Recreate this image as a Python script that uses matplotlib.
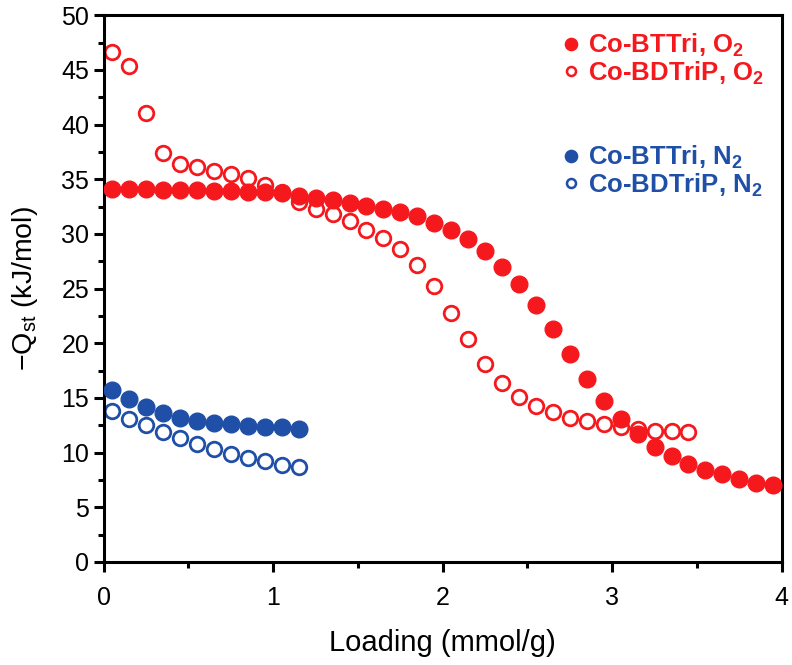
import matplotlib
matplotlib.use("Agg")
import numpy as np
import matplotlib.pyplot as plt
from matplotlib.lines import Line2D

plt.rcParams['font.family'] = ['Liberation Sans', 'DejaVu Sans']
plt.rcParams['mathtext.fontset'] = 'custom'
plt.rcParams['mathtext.rm'] = 'Liberation Sans'
plt.rcParams['mathtext.bf'] = 'Liberation Sans:bold'
plt.rcParams['mathtext.it'] = 'Liberation Sans:italic'

# Co-BTTri, O2 (filled red)
x_bttri_o2 = [0.05, 0.15, 0.25, 0.35, 0.45, 0.55, 0.65, 0.75, 0.85, 0.95,
              1.05, 1.15, 1.25, 1.35, 1.45, 1.55, 1.65, 1.75, 1.85, 1.95,
              2.05, 2.15, 2.25, 2.35, 2.45, 2.55, 2.65, 2.75, 2.85, 2.95,
              3.05, 3.15, 3.25, 3.35, 3.45, 3.55, 3.65, 3.75, 3.85, 3.95]
q_bttri_o2 = [34.1, 34.1, 34.1, 34.0, 34.0, 34.0, 33.9, 33.9, 33.8, 33.8,
              33.7, 33.5, 33.3, 33.1, 32.8, 32.6, 32.3, 32.0, 31.6, 31.0,
              30.4, 29.5, 28.4, 27.0, 25.4, 23.5, 21.3, 19.0, 16.7, 14.7,
              13.1, 11.7, 10.5, 9.7, 9.0, 8.4, 8.0, 7.6, 7.2, 7.0]

# Co-BDTriP, O2 (open red)
x_bdtrip_o2 = [0.05, 0.15, 0.25, 0.35, 0.45, 0.55, 0.65, 0.75, 0.85, 0.95,
               1.05, 1.15, 1.25, 1.35, 1.45, 1.55, 1.65, 1.75, 1.85, 1.95,
               2.05, 2.15, 2.25, 2.35, 2.45, 2.55, 2.65, 2.75, 2.85, 2.95,
               3.05, 3.15, 3.25, 3.35, 3.45]
q_bdtrip_o2 = [46.6, 45.4, 41.1, 37.4, 36.4, 36.1, 35.8, 35.5, 35.1, 34.5,
               33.8, 32.9, 32.3, 31.8, 31.2, 30.4, 29.6, 28.6, 27.2, 25.2,
               22.8, 20.4, 18.1, 16.4, 15.1, 14.3, 13.7, 13.2, 12.9, 12.6,
               12.3, 12.2, 12.0, 12.0, 11.9]

# Co-BTTri, N2 (filled blue)
x_bttri_n2 = [0.05, 0.15, 0.25, 0.35, 0.45, 0.55, 0.65, 0.75, 0.85, 0.95, 1.05, 1.15]
q_bttri_n2 = [15.7, 14.9, 14.2, 13.6, 13.2, 12.9, 12.7, 12.6, 12.4, 12.3, 12.3, 12.2]

# Co-BDTriP, N2 (open blue)
x_bdtrip_n2 = [0.05, 0.15, 0.25, 0.35, 0.45, 0.55, 0.65, 0.75, 0.85, 0.95, 1.05, 1.15]
q_bdtrip_n2 = [13.8, 13.1, 12.5, 11.9, 11.3, 10.8, 10.3, 9.9, 9.5, 9.2, 8.9, 8.7]

red = '#F5191E'
blue = '#1F4FA6'

fig = plt.figure(figsize=(7.92, 6.65), dpi=100)
ax = fig.add_axes([0.131, 0.155, 0.856, 0.822])

ms = 12
ax.plot(x_bttri_o2, q_bttri_o2, 'o', color=red, ms=ms, mec=red, zorder=3)
ax.plot(x_bdtrip_o2, q_bdtrip_o2, 'o', mfc='none', mec=red, ms=10.5, mew=2.0, zorder=2)
ax.plot(x_bttri_n2, q_bttri_n2, 'o', color=blue, ms=ms, mec=blue, zorder=3)
ax.plot(x_bdtrip_n2, q_bdtrip_n2, 'o', mfc='none', mec=blue, ms=10.5, mew=2.0, zorder=2)

ax.set_xlim(0, 4)
ax.set_ylim(0, 50)
ax.set_xticks([0, 1, 2, 3, 4])
ax.set_xticks(np.arange(0.5, 4, 1), minor=True)
ax.set_yticks(np.arange(0, 51, 5))
ax.set_yticks(np.arange(2.5, 50, 5), minor=True)
for s in ax.spines.values():
    s.set_linewidth(2.2)
ax.tick_params(which='major', direction='out', length=7, width=2.2, labelsize=18)
ax.tick_params(which='minor', direction='out', length=4.5, width=2.2)
ax.tick_params(axis='x', pad=10)

ax.set_xlabel('Loading (mmol/g)', fontsize=21, labelpad=14)
ax.set_ylabel(r'$-\mathrm{Q}_{\rm st}$ (kJ/mol)', fontsize=20.5, labelpad=15)

# legend, two groups
def make_legend(entries, anchor):
    handles = []
    labels = []
    for lab, col, filled in entries:
        h = Line2D([], [], ls='none', marker='o', ms=8 if filled else 6.5,
                   mfc=col if filled else 'none', mec=col, mew=1.8)
        handles.append(h)
        labels.append(lab)
    leg = ax.legend(handles, labels, loc='upper left', bbox_to_anchor=anchor,
                    frameon=False, handletextpad=0.15, handlelength=1.0,
                    labelspacing=0.02, borderaxespad=0, borderpad=0,
                    prop={'family': ['Liberation Sans', 'DejaVu Sans'],
                          'weight': 'bold', 'size': 18.5},
                    labelcolor=[e[1] for e in entries])
    return leg

leg1 = make_legend([(r'Co-BTTri, O$_\mathbf{2}$', red, True),
                    (r'Co-BDTriP, O$_\mathbf{2}$', red, False)], (0.67, 0.97))
ax.add_artist(leg1)
make_legend([(r'Co-BTTri, N$_\mathbf{2}$', blue, True),
             (r'Co-BDTriP, N$_\mathbf{2}$', blue, False)], (0.67, 0.765))

fig.savefig('out.png', dpi=100)
